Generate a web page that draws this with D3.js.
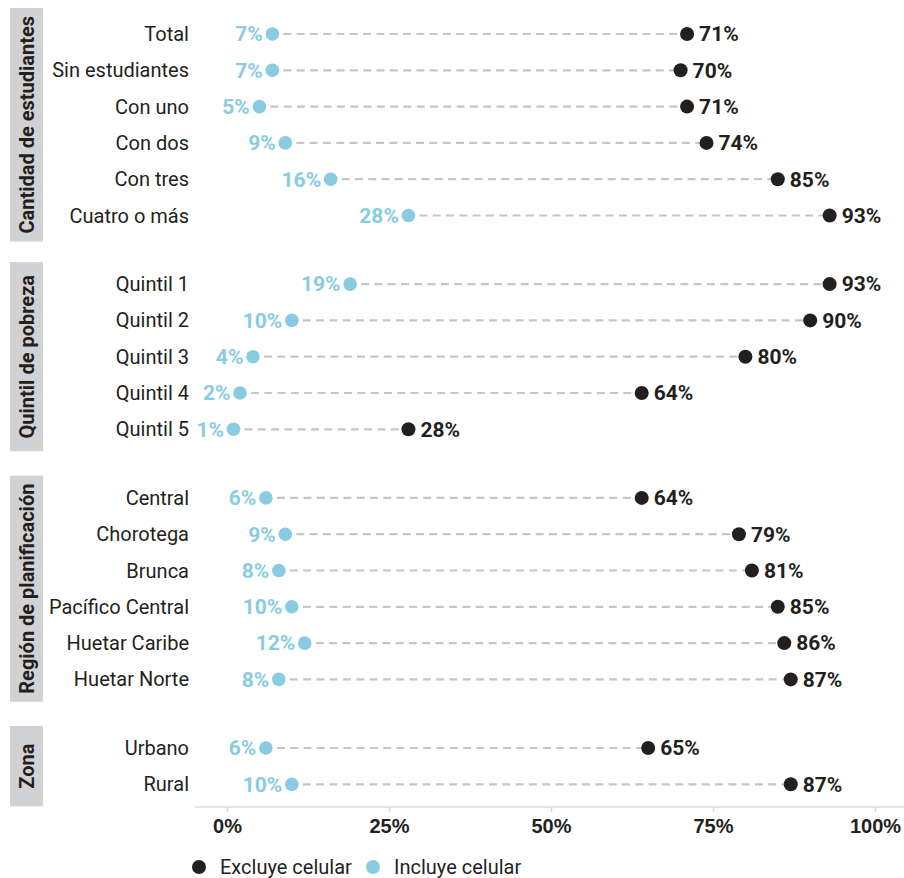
<!DOCTYPE html>
<html>
<head>
<meta charset="utf-8">
<script src="https://cdn.jsdelivr.net/npm/d3@7"></script>
<style>
  html, body { margin: 0; padding: 0; background: #fff; }
  svg { display: block; font-family: Roboto, "Noto Sans", sans-serif; }
</style>
</head>
<body>
<svg id="chart" width="904" height="878"></svg>
<script>
// Share of households without internet access, excluding / including mobile connection
const groups = ["Cantidad de estudiantes", "Quintil de pobreza", "Región de planificación", "Zona"];
const categories = [
  ["Total", "Sin estudiantes", "Con uno", "Con dos", "Con tres", "Cuatro o más"],
  ["Quintil 1", "Quintil 2", "Quintil 3", "Quintil 4", "Quintil 5"],
  ["Central", "Chorotega", "Brunca", "Pacífico Central", "Huetar Caribe", "Huetar Norte"],
  ["Urbano", "Rural"]
];
const excluyeCelular = [
  [71, 70, 71, 74, 85, 93],
  [93, 90, 80, 64, 28],
  [64, 79, 81, 85, 86, 87],
  [65, 87]
];
const incluyeCelular = [
  [7, 7, 5, 9, 16, 28],
  [19, 10, 4, 2, 1],
  [6, 9, 8, 10, 12, 8],
  [6, 10]
];
const xTicks = [0, 25, 50, 75, 100];
const seriesNames = ["Excluye celular", "Incluye celular"];

const colDark = "#231f20";
const colBlue = "#89cce1";
const colDash = "#c6c6c8";
const colStrip = "#d1d2d4";

const svg = d3.select("#chart");

// Flatten rows; each group adds a gap of 0.89 row steps before it
const GAP = 0.89;
const rows = [];
categories.forEach((cats, g) => {
  cats.forEach((c, i) => {
    rows.push({
      group: g, name: c,
      slot: rows.length + g * GAP,
      exc: excluyeCelular[g][i],
      inc: incluyeCelular[g][i]
    });
  });
});

const x = d3.scaleLinear().domain([0, 100]).range([227, 875]);
const y = d3.scaleLinear().domain([0, 1]).range([34, 70.3]);

// Group strips with rotated titles
const stripG = svg.append("g");
groups.forEach((name, g) => {
  const gr = rows.filter(r => r.group === g);
  const y0 = y(gr[0].slot), y1 = y(gr[gr.length - 1].slot);
  const cy = (y0 + y1) / 2;
  const t = stripG.append("text")
    .attr("transform", `translate(27,${cy}) rotate(-90)`)
    .attr("text-anchor", "middle")
    .attr("dy", "0.35em")
    .attr("font-weight", "bold")
    .attr("font-size", 20)
    .attr("fill", colDark)
    .text(name);
  const len = t.node().getComputedTextLength();
  const h = Math.max(y1 - y0 + 44, len + 16);
  stripG.insert("rect", "text")
    .attr("x", 10).attr("width", 33)
    .attr("y", cy - h / 2).attr("height", h)
    .attr("fill", colStrip);
});

// Axis
const axisY = 807;
const axis = d3.axisBottom(x).tickValues(xTicks).tickFormat(d => d + "%").tickSize(5).tickSizeOuter(0);
const ax = svg.append("g").attr("transform", `translate(0,${axisY})`).call(axis);
ax.select(".domain").remove();
ax.append("line").attr("x1", 195).attr("x2", 904).attr("stroke", "#dcdcdc").attr("stroke-width", 1.5);
ax.selectAll(".tick line").attr("stroke", "#dcdcdc").attr("stroke-width", 1.5);
ax.selectAll(".tick text")
  .attr("y", 12)
  .attr("dy", "0.71em")
  .attr("font-size", 20)
  .attr("font-weight", "bold")
  .attr("fill", colDark)
  .attr("font-family", "inherit");

// Rows
const rowG = svg.append("g").selectAll("g").data(rows).join("g")
  .attr("transform", d => `translate(0,${y(d.slot)})`);

rowG.append("text")
  .attr("x", 189).attr("dy", "0.35em")
  .attr("text-anchor", "end")
  .attr("font-size", 20)
  .attr("fill", colDark)
  .text(d => d.name);

// Dashed connector, starting just past the blue dot
rowG.append("line")
  .attr("x1", d => x(d.inc) + 6).attr("x2", d => x(d.exc))
  .attr("stroke", colDash).attr("stroke-width", 2.2)
  .attr("stroke-dasharray", "8,5.3")
  .attr("stroke-dashoffset", -5);

rowG.append("circle")
  .attr("cx", d => x(d.inc)).attr("r", 6.8).attr("fill", colBlue);
rowG.append("circle")
  .attr("cx", d => x(d.exc)).attr("r", 7).attr("fill", colDark);

rowG.append("text")
  .attr("x", d => x(d.inc) - 9.5).attr("dy", "0.35em")
  .attr("text-anchor", "end")
  .attr("font-size", 21).attr("font-weight", "bold")
  .attr("fill", colBlue)
  .text(d => d.inc + "%");

rowG.append("text")
  .attr("x", d => x(d.exc) + 12).attr("dy", "0.35em")
  .attr("font-size", 21).attr("font-weight", "bold")
  .attr("fill", colDark)
  .text(d => d.exc + "%");

// Legend
const leg = svg.append("g").attr("transform", "translate(199,867)");
const legItems = leg.selectAll("g").data(seriesNames).join("g")
  .attr("transform", (d, i) => `translate(${i * 174},0)`);
legItems.append("circle").attr("r", 7).attr("fill", (d, i) => i === 0 ? colDark : colBlue);
legItems.append("text").attr("x", 21).attr("dy", "0.35em")
  .attr("font-size", 20).attr("fill", colDark).text(d => d);
</script>
</body>
</html>
